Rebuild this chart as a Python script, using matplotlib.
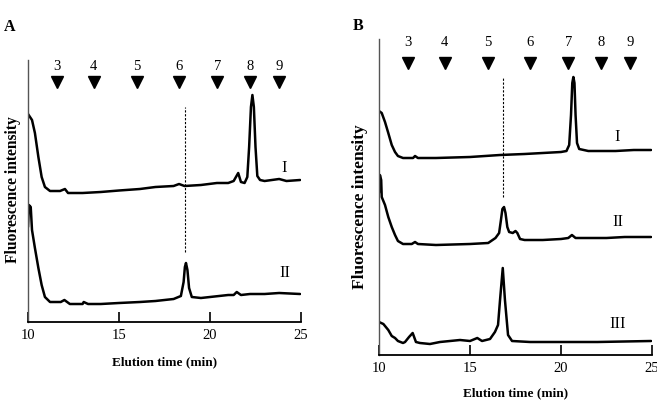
import matplotlib
matplotlib.use('Agg')
from matplotlib import pyplot as plt

plt.rcParams['font.family'] = ['Liberation Serif', 'DejaVu Serif']

# standard markers (elution positions) shared by both panels
std_labels = ['3', '4', '5', '6', '7', '8', '9']
std_times = [11.6, 13.6, 16.0, 18.3, 20.4, 22.2, 23.8]

# ---- panel A traces (time in min, intensity in arbitrary units)
a1_t = [10.0, 10.22, 10.38, 10.57, 10.75, 10.93, 11.21, 11.48, 11.76, 12.03, 12.2, 13.0,
        14.0, 15.0, 16.15, 17.0, 18.0, 18.3, 18.6, 19.5, 20.38, 21.0, 21.3, 21.55,
        21.7, 21.9, 22.05, 22.15, 22.25, 22.33, 22.41, 22.5, 22.6, 22.75, 23.0, 23.8,
        24.2, 24.95]
a1_y = [208, 202, 189, 165, 145, 135, 131, 131, 131, 133, 129, 129,
        130, 131.5, 133, 135, 136, 138, 136, 137, 139, 139, 141, 149,
        140, 139, 145, 175, 215, 227, 215, 175, 146, 142, 141, 143,
        141, 142]

a2_t = [10.0, 10.05, 10.15, 10.22, 10.38, 10.57, 10.75, 10.93, 11.21, 11.48, 11.8, 12.0,
        12.3, 13.0, 13.06, 13.3, 14.0, 15.0, 16.15, 17.0, 18.0, 18.4, 18.55, 18.62,
        18.68, 18.76, 18.85, 19.0, 19.5, 20.0, 20.5, 21.0, 21.3, 21.47, 21.7, 22.2,
        23.0, 23.8, 24.95]
a2_y = [95, 117, 115, 92, 74, 54, 37, 25, 20, 20, 20, 22,
        18, 18, 20, 18, 18, 19, 20, 21, 23, 26, 40, 55,
        59, 52, 34, 25, 24, 25, 26, 27, 27, 30, 27, 28,
        28, 29, 28]

# ---- panel B traces
b1_t = [10.0, 10.15, 10.33, 10.51, 10.70, 10.88, 11.04, 11.32, 11.87, 11.98, 12.14, 13.13,
        15.0, 16.65, 18.0, 20.0, 20.3, 20.45, 20.55, 20.62, 20.68, 20.74, 20.8, 20.88,
        21.0, 21.5, 22.0, 23.0, 24.0, 24.95]
b1_y = [244, 242, 233, 222, 210, 203, 199, 197, 197, 199, 197, 197,
        198, 200, 201, 203, 204, 210, 240, 272, 278, 272, 240, 212,
        206, 204, 204, 204, 205, 205]

b2_t = [10.0, 10.05, 10.12, 10.15, 10.33, 10.51, 10.70, 10.88, 11.04, 11.32, 11.8, 11.98,
        12.14, 13.13, 15.0, 16.0, 16.4, 16.6, 16.7, 16.78, 16.87, 16.95, 17.05, 17.15,
        17.35, 17.5, 17.6, 17.75, 18.0, 19.0, 20.0, 20.4, 20.6, 20.8, 21.5, 22.5,
        23.5, 24.95]
b2_y = [162, 180, 175, 158, 150, 138, 128, 120, 114, 111, 111, 113,
        111, 110, 111, 112, 117, 122, 135, 146, 148, 142, 128, 123,
        122, 124, 122, 116, 115, 115, 116, 117, 120, 117, 117, 117,
        118, 118]

b3_t = [10.0, 10.24, 10.51, 10.70, 10.88, 11.04, 11.32, 11.43, 11.65, 11.85, 12.03, 12.25,
        12.8, 13.35, 14.45, 15.0, 15.4, 15.66, 16.1, 16.37, 16.54, 16.65, 16.8, 16.92,
        17.09, 17.31, 18.3, 19.4, 20.0, 22.0, 24.95]
b3_y = [33, 31, 25, 19, 17, 14, 12, 13, 18, 22, 13, 12,
        11, 13, 15, 14, 17, 14, 16, 23, 30, 55, 87, 55,
        20, 14, 13, 13, 13, 13, 14]


def style_axes(ax, ytop):
    ax.set_xlim(10, 25)
    ax.set_ylim(0, ytop)
    ax.spines['top'].set_visible(False)
    ax.spines['right'].set_visible(False)
    ax.spines['left'].set_color('#555555')
    ax.spines['left'].set_linewidth(1.0)
    ax.spines['bottom'].set_linewidth(1.3)
    ax.set_yticks([])
    ax.set_xticks([10, 15, 20, 25])
    ax.tick_params(axis='x', direction='in', length=7, width=1.2, labelsize=10.5, pad=5)
    ax.patch.set_alpha(0)


def draw_markers(ax, y_arrow, y_num):
    ax.plot(std_times, [y_arrow] * len(std_times), 'v', color='black', markersize=9,
            clip_on=False)
    for t, lab in zip(std_times, std_labels):
        ax.text(t, y_num, lab, ha='center', va='center', fontsize=10.5, clip_on=False)


line_kw = dict(color='black', lw=1.8, solid_joinstyle='round', solid_capstyle='round')

fig = plt.figure(figsize=(6.57, 4.03), dpi=100)

# =========================================================================
axA = fig.add_axes([28 / 657, 81 / 403, 273 / 657, 262 / 403])
style_axes(axA, 262)
axA.plot(a1_t, a1_y, **line_kw)
axA.plot(a2_t, a2_y, **line_kw)
axA.plot([18.63, 18.63], [70, 215], color='black', lw=0.8, ls=(0, (2, 1.5)))
draw_markers(axA, 240, 255)
axA.text(24.1, 154, 'I', ha='center', va='center', fontsize=12)
axA.text(24.1, 49, 'II', ha='center', va='center', fontsize=12)
axA.set_xlabel('Elution time (min)', fontsize=9.5, fontweight='bold', labelpad=10)
fig.text(10 / 657, 1 - 27 / 403, 'A', ha='center', va='center', fontsize=11.5,
         fontweight='bold')
fig.text(13 / 657, 1 - 190 / 403, 'Fluorescence intensity', rotation=90, ha='center',
         va='center', fontsize=11.2, fontweight='bold')

# =========================================================================
axB = fig.add_axes([379 / 657, 48 / 403, 273 / 657, 316 / 403])
style_axes(axB, 316)
axB.plot(b1_t, b1_y, **line_kw)
axB.plot(b2_t, b2_y, **line_kw)
axB.plot(b3_t, b3_y, **line_kw)
axB.plot([16.81, 16.81], [158, 277], color='black', lw=0.8, ls=(0, (2, 1.5)))
draw_markers(axB, 292, 312)
axB.text(23.1, 218, 'I', ha='center', va='center', fontsize=12)
axB.text(23.1, 133, 'II', ha='center', va='center', fontsize=12)
axB.text(23.1, 31, 'III', ha='center', va='center', fontsize=12)
axB.set_xlabel('Elution time (min)', fontsize=9.5, fontweight='bold', labelpad=9)
fig.text(358 / 657, 1 - 26 / 403, 'B', ha='center', va='center', fontsize=11.5,
         fontweight='bold')
fig.text(360 / 657, 1 - 207 / 403, 'Fluorescence intensity', rotation=90, ha='center',
         va='center', fontsize=12.5, fontweight='bold')

fig.savefig('out.png', dpi=100)
